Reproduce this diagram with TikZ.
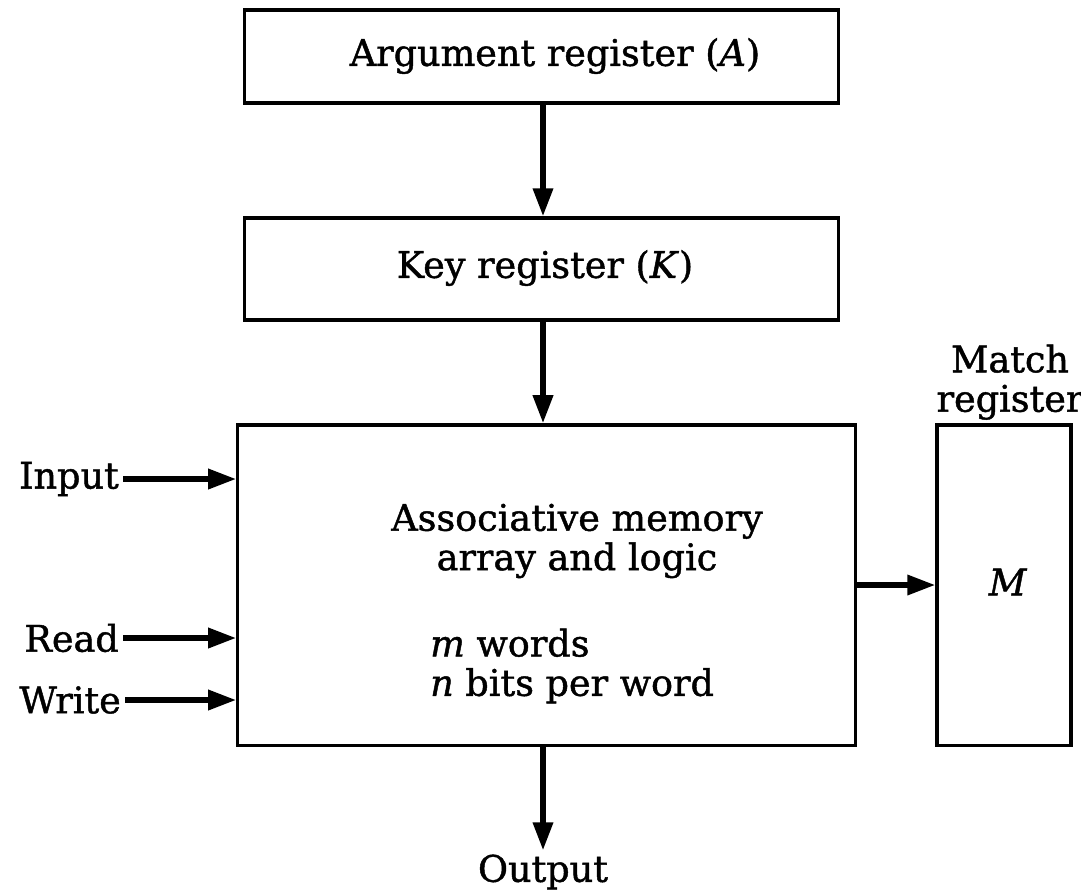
\documentclass[tikz,border=0pt]{standalone}
\usepackage{fontspec}
\setmainfont[FakeBold=1.2]{DejaVu Serif}
\usetikzlibrary{positioning,arrows.meta}
\tikzset{R node/.style={rectangle,draw,line width=0.9pt,inner sep=0pt},
	L node/.style={inner sep=1pt,font=\fontsize{10.4}{11.2}\selectfont},
	flow/.style={draw,line width=1.6pt,-{Stealth[length=8pt,width=5.5pt,inset=0pt]}},}

\begin{document}
\begin{tikzpicture}[x=0.01cm,y=-0.01cm]
			\useasboundingbox (0,0) rectangle (1081,890);

			\node[R node,minimum width=5.93cm,minimum height=0.93cm] (A) at (541.5,56.5) {};
			\node[L node] (At) at (555,56) {Argument register (\textit{A})};
			\node[R node,minimum width=5.93cm,minimum height=1.02cm] (K) at (541.5,269) {};
			\node[L node] (Kt) at (545,268) {Key register (\textit{K})};
			\node[R node,minimum width=6.17cm,minimum height=3.2cm] (AM) at (546.5,585) {};
			\node[L node,align=center] (AMt) at (577,541) {Associative memory\\array and logic};
			\node[L node,align=left,anchor=west] (AMs) at (426,666) {\textit{m} words\\\textit{n} bits per word};
			\node[R node,minimum width=1.34cm,minimum height=3.2cm] (M) at (1004,585) {};
			\node[L node] (Mt) at (1008,582) {\textit{M}};
			\node[L node,align=center,anchor=south] (Ml) at (1010,424) {Match\\register};

			\node[L node,anchor=east] (in) at (123,479) {Input};
			\node[L node,anchor=east] (rd) at (123,638) {Read};
			\node[L node,anchor=east] (wr) at (125,700) {Write};
			\node[L node] (out) at (543,872) {Output};

			\path
				(543,0 |- A.south) edge[flow] (543,0 |- K.north)
				(543,0 |- K.south) edge[flow] (543,0 |- AM.north)
				(out |- AM.south) edge[flow] (out)
				(in) edge[flow] (in -| AM.west)
				(rd) edge[flow] (rd -| AM.west)
				(wr) edge[flow] (wr -| AM.west)
				(AM.east) edge[flow] (M.west);
		\end{tikzpicture}
\end{document}
